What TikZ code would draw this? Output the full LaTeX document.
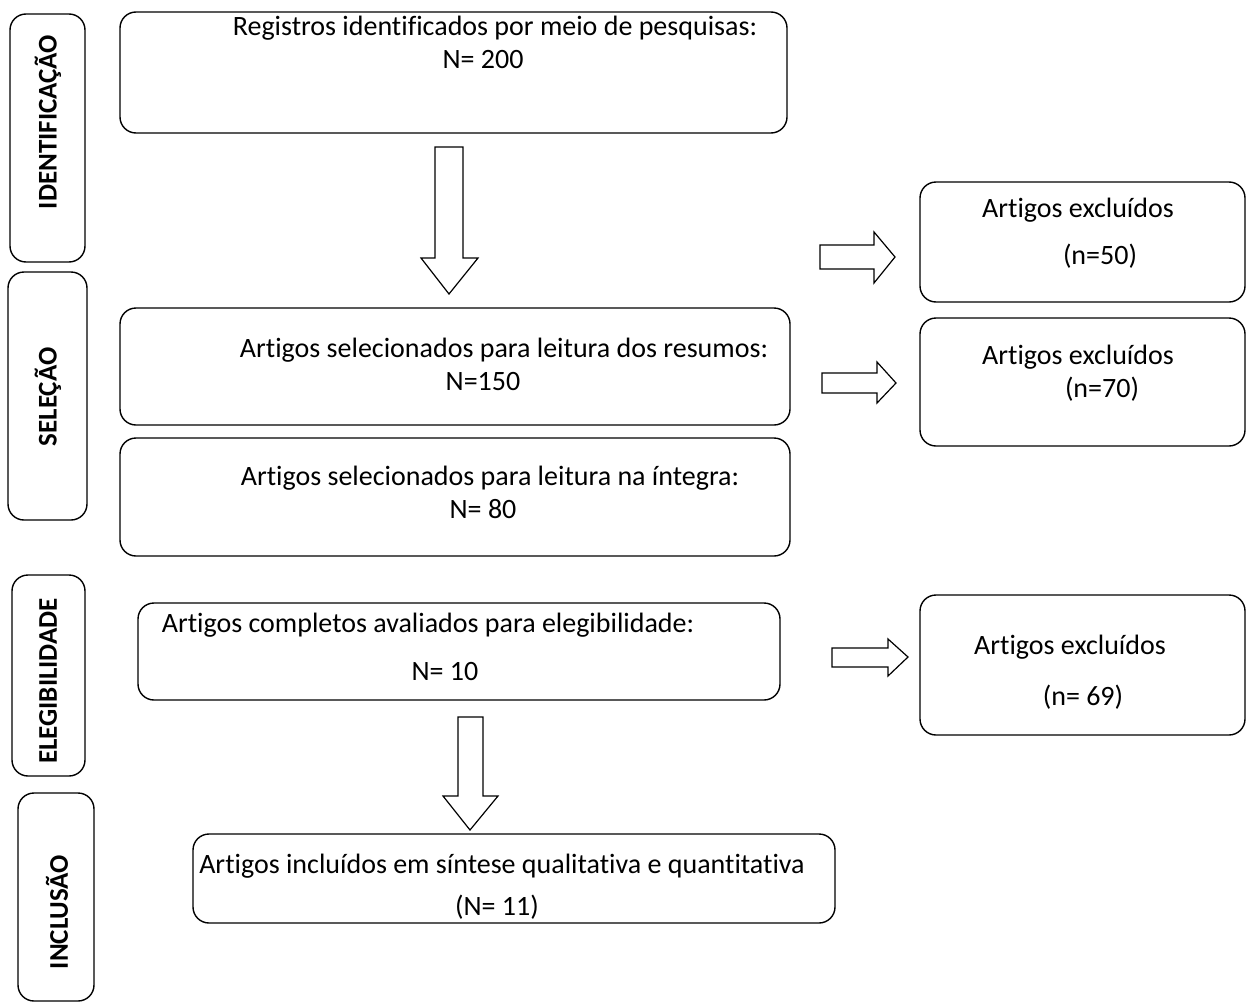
\documentclass[tikz,border=0pt]{standalone}
\usepackage{fontspec}
\setmainfont{Carlito}[Ligatures=NoCommon]
\begin{document}
\begin{tikzpicture}[x=1pt,y=-1pt,
  box/.style={draw, line width=1.4pt, rounded corners=16pt, inner sep=0pt},
  txt/.style={font=\fontsize{28}{32}\selectfont, inner sep=0pt, anchor=center},
  lab/.style={font=\fontsize{27}{31}\selectfont\bfseries, rotate=90, inner sep=0pt},
  barrow/.style={draw, line width=1.2pt, fill=white, line join=miter}]
\useasboundingbox (0,0) rectangle (1247,1001);
\fill[white] (0,0) rectangle (1247,1001);

% phase label boxes
\node[box, minimum width=75pt, minimum height=248pt] (lid) at (47.5,138) {};
\node[box, minimum width=79pt, minimum height=248pt] (lsel) at (47.5,396) {};
\node[box, minimum width=73pt, minimum height=201pt] (lel) at (48.5,675.5) {};
\node[box, minimum width=76pt, minimum height=208pt] (lin) at (56,897) {};
\node[lab] (tid) at (48,122) {IDENTIFICAÇÃO};
\node[lab] (tsel) at (48,397) {SELEÇÃO};
\node[lab] (tel) at (48,681) {ELEGIBILIDADE};
\node[lab] (tin) at (57,912) {INCLUSÃO};

% main boxes
\node[box, minimum width=667pt, minimum height=121pt] (b1) at (453.5,72.5) {};
\node[txt] (b1a) at (495,28) {Registros identificados por meio de pesquisas:};
\node[txt] (b1b) at (483,60) {N= 200};

\node[box, minimum width=670pt, minimum height=117pt] (b2) at (455,366.5) {};
\node[txt] (b2a) at (504,350) {Artigos selecionados para leitura dos resumos:};
\node[txt] (b2b) at (483,382) {N=150};

\node[box, minimum width=670pt, minimum height=118pt] (b3) at (455,497) {};
\node[txt] (b3a) at (490,478) {Artigos selecionados para leitura na íntegra:};
\node[txt] (b3b) at (483,509) {N= 80};

\node[box, minimum width=642pt, minimum height=97pt] (b4) at (459,651.5) {};
\node[txt] (b4a) at (428,625) {Artigos completos avaliados para elegibilidade:};
\node[txt] (b4b) at (445,672) {N= 10};

\node[box, minimum width=642pt, minimum height=89pt] (b5) at (514,878.5) {};
\node[txt] (b5a) at (502,866) {Artigos incluídos em síntese qualitativa e quantitativa};
\node[txt] (b5b) at (497,907) {(N= 11)};

% excluded boxes
\node[box, minimum width=325pt, minimum height=120pt] (r1) at (1082.5,242) {};
\node[txt] (r1a) at (1078,210) {Artigos excluídos};
\node[txt] (r1b) at (1100,256) {(n=50)};

\node[box, minimum width=325pt, minimum height=128pt] (r2) at (1082.5,382) {};
\node[txt] (r2a) at (1078,357) {Artigos excluídos};
\node[txt] (r2b) at (1102,389) {(n=70)};

\node[box, minimum width=325pt, minimum height=140pt] (r3) at (1082.5,665) {};
\node[txt] (r3a) at (1070,647) {Artigos excluídos};
\node[txt] (r3b) at (1083,697) {(n= 69)};

% block arrows (down)
\draw[barrow] (435,147) -- (463,147) -- (463,258) -- (478,258) -- (449,294)
  -- (421,258) -- (435,258) -- cycle;
\draw[barrow] (458,717) -- (483,717) -- (483,796) -- (498,796) -- (470,830)
  -- (443,796) -- (458,796) -- cycle;

% block arrows (right)
\draw[barrow] (820,245) -- (874,245) -- (874,232) -- (895,257) -- (874,283)
  -- (874,269) -- (820,269) -- cycle;
\draw[barrow] (822,373) -- (877,373) -- (877,362) -- (896,383) -- (877,403)
  -- (877,393) -- (822,393) -- cycle;
\draw[barrow] (832,648) -- (888,648) -- (888,639) -- (908,657) -- (888,676)
  -- (888,667) -- (832,667) -- cycle;
\end{tikzpicture}
\end{document}
